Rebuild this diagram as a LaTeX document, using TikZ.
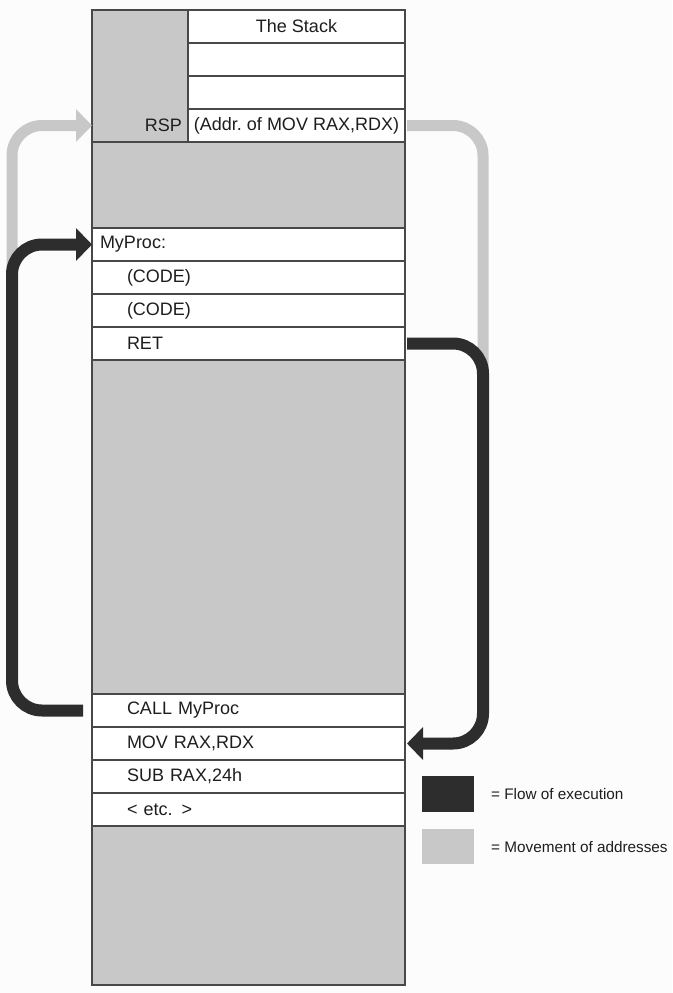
\documentclass[tikz,border=0pt]{standalone}
\usepackage{fontspec}
\setmainfont{Liberation Sans}
\usetikzlibrary{positioning,arrows.meta}

\definecolor{flowcol}{HTML}{2D2D2D}
\definecolor{movecol}{HTML}{C8C8C8}
\definecolor{edgecol}{HTML}{484848}
\definecolor{textcol}{HTML}{1E1E1E}
\definecolor{paper}{HTML}{FCFCFC}

\begin{document}
\begin{tikzpicture}[>={Triangle[length=16pt,width=32pt]},thick,
  cell/.style={draw=edgecol,line width=1.2pt,fill=white,text=textcol,minimum height=33pt,
    inner ysep=0pt,outer sep=0pt,font=\fontsize{18}{20}\selectfont},
  code/.style={cell,text width=243pt,inner xsep=35pt,align=left},
  entry/.style={cell,text width=297pt,inner xsep=8pt,align=left},
  slot/.style={cell,minimum width=217pt,inner xsep=0pt},
  free/.style={draw=edgecol,line width=1.2pt,fill=movecol,minimum width=313pt,inner sep=0pt,outer sep=0pt},
  flow/.style={draw=flowcol,line width=12pt,rounded corners=30pt},
  move/.style={draw=movecol,line width=11pt,rounded corners=30pt},
  keytext/.style={text=textcol,inner sep=0pt,font=\fontsize{15.3}{17}\selectfont}]

  \fill[paper] (0pt,0pt) rectangle (672pt,-993pt);

  % the stack
  \node[free,minimum width=96pt,minimum height=132pt,anchor=north west] (spare) at (92pt,-10pt) {};
  \node[slot,anchor=north west] (title) at (spare.north east) {The Stack};
  \node[slot,below=0pt of title] (slot1) {};
  \node[slot,below=0pt of slot1] (slot2) {};
  \node[slot,below=0pt of slot2] (addr) {(Addr.\ of MOV RAX,RDX)};
  \node[cell,draw=none,fill=none,inner sep=0pt,anchor=east] (rsp) at ([xshift=-6pt]addr.west) {RSP};

  % the code
  \node[free,minimum height=86pt,anchor=north west] (free1) at (spare.south west) {};
  \node[entry,below=0pt of free1] (myproc) {MyProc:};
  \node[code,below=0pt of myproc] (code1) {(CODE)};
  \node[code,below=0pt of code1] (code2) {(CODE)};
  \node[code,below=0pt of code2] (ret) {RET};
  \node[free,minimum height=334pt,below=0pt of ret] (free2) {};
  \node[code,below=0pt of free2] (call) {CALL MyProc};
  \node[code,below=0pt of call] (mov) {MOV RAX,RDX};
  \node[code,below=0pt of mov] (sub) {SUB RAX,24h};
  \node[code,below=0pt of sub] (etc) {< etc. >};
  \node[free,minimum height=159pt,below=0pt of etc] (free3) {};

  % movement of addresses
  \draw[move] ([xshift=2pt]addr.east) -- ++(76pt,0) -- ++(0,-250pt);
  \draw[move,->] ([xshift=-80pt,yshift=-40pt]myproc.south west) |- (spare.west |- addr.west);

  % flow of execution
  \draw[flow,->] ([xshift=-9pt]call.west) -- ++(-71pt,0) |- (myproc.west);
  \draw[flow,->] ([xshift=2pt]ret.east) -- ++(76pt,0) |- ([xshift=2pt]mov.east);

  % key
  \node[fill=flowcol,minimum width=52pt,minimum height=36pt,inner sep=0pt,anchor=north west] (flowkey) at (422pt,-776pt) {};
  \node[fill=movecol,minimum width=52pt,minimum height=35pt,inner sep=0pt,below=16pt of flowkey] (movekey) {};
  \node[keytext,right=16pt of flowkey] (flowtext) {= Flow of execution};
  \node[keytext,right=16pt of movekey] (movetext) {= Movement of addresses};
\end{tikzpicture}
\end{document}
